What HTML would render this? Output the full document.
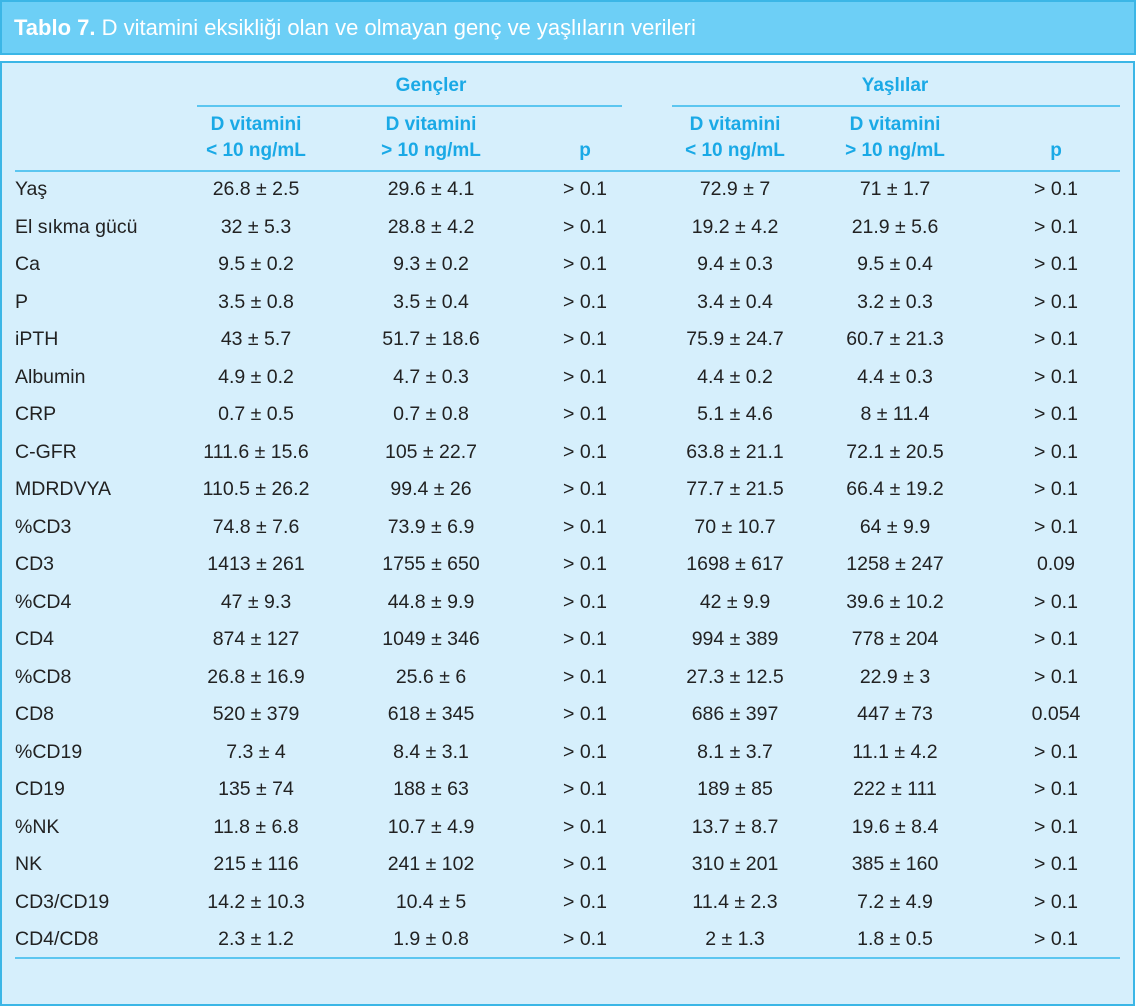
<!DOCTYPE html>
<html><head><meta charset="utf-8"><style>
body{margin:0;width:1136px;height:1006px;background:#fff;position:relative;font-family:"Liberation Sans",sans-serif;overflow:hidden}
.hd{position:absolute;left:0;top:0;height:51px;background:#6dcff6;border:2px solid #3bb6e6;color:#fff;font-size:22px;line-height:51px;padding-left:12px;width:1120px}
.bx{position:absolute;left:0;top:61px;width:1131px;height:941px;background:#d6effc;border:2px solid #3bb6e6}
.ln{position:absolute;height:2px;background:#5cc6f0}
.h{position:absolute;color:#1aa9e6;font-weight:bold;font-size:19px;text-align:center;line-height:26px}
table{position:absolute;left:15px;top:171px;border-collapse:collapse;font-size:19.5px;color:#222}
td{padding:0;text-align:center;vertical-align:middle;line-height:37.5px;height:37.5px}
td:first-child{text-align:left}
</style></head><body>
<div class="hd"><b>Tablo 7.</b> D vitamini eksikliği olan ve olmayan genç ve yaşlıların verileri</div>
<div class="bx"></div>
<div class="ln" style="left:197px;top:105px;width:425px"></div>
<div class="ln" style="left:672px;top:105px;width:448px"></div>
<div class="ln" style="left:15px;top:170px;width:1105px"></div>
<div class="ln" style="left:15px;top:957px;width:1105px"></div>
<div class="h" style="left:331px;top:73px;width:200px">Gençler</div>
<div class="h" style="left:795px;top:73px;width:200px">Yaşlılar</div>
<div class="h" style="left:156px;top:112px;width:200px">D vitamini<br>&lt; 10 ng/mL</div>
<div class="h" style="left:331px;top:112px;width:200px">D vitamini<br>&gt; 10 ng/mL</div>
<div class="h" style="left:535px;top:138px;width:100px">p</div>
<div class="h" style="left:635px;top:112px;width:200px">D vitamini<br>&lt; 10 ng/mL</div>
<div class="h" style="left:795px;top:112px;width:200px">D vitamini<br>&gt; 10 ng/mL</div>
<div class="h" style="left:1006px;top:138px;width:100px">p</div>
<table>
<colgroup><col style="width:141px"><col style="width:200px"><col style="width:150px"><col style="width:158px"><col style="width:142px"><col style="width:178px"><col style="width:144px"></colgroup>
<tr><td>Yaş</td><td>26.8 ± 2.5</td><td>29.6 ± 4.1</td><td>&gt; 0.1</td><td>72.9 ± 7</td><td>71 ± 1.7</td><td>&gt; 0.1</td></tr>
<tr><td>El sıkma gücü</td><td>32 ± 5.3</td><td>28.8 ± 4.2</td><td>&gt; 0.1</td><td>19.2 ± 4.2</td><td>21.9 ± 5.6</td><td>&gt; 0.1</td></tr>
<tr><td>Ca</td><td>9.5 ± 0.2</td><td>9.3 ± 0.2</td><td>&gt; 0.1</td><td>9.4 ± 0.3</td><td>9.5 ± 0.4</td><td>&gt; 0.1</td></tr>
<tr><td>P</td><td>3.5 ± 0.8</td><td>3.5 ± 0.4</td><td>&gt; 0.1</td><td>3.4 ± 0.4</td><td>3.2 ± 0.3</td><td>&gt; 0.1</td></tr>
<tr><td>iPTH</td><td>43 ± 5.7</td><td>51.7 ± 18.6</td><td>&gt; 0.1</td><td>75.9 ± 24.7</td><td>60.7 ± 21.3</td><td>&gt; 0.1</td></tr>
<tr><td>Albumin</td><td>4.9 ± 0.2</td><td>4.7 ± 0.3</td><td>&gt; 0.1</td><td>4.4 ± 0.2</td><td>4.4 ± 0.3</td><td>&gt; 0.1</td></tr>
<tr><td>CRP</td><td>0.7 ± 0.5</td><td>0.7 ± 0.8</td><td>&gt; 0.1</td><td>5.1 ± 4.6</td><td>8 ± 11.4</td><td>&gt; 0.1</td></tr>
<tr><td>C-GFR</td><td>111.6 ± 15.6</td><td>105 ± 22.7</td><td>&gt; 0.1</td><td>63.8 ± 21.1</td><td>72.1 ± 20.5</td><td>&gt; 0.1</td></tr>
<tr><td>MDRDVYA</td><td>110.5 ± 26.2</td><td>99.4 ± 26</td><td>&gt; 0.1</td><td>77.7 ± 21.5</td><td>66.4 ± 19.2</td><td>&gt; 0.1</td></tr>
<tr><td>%CD3</td><td>74.8 ± 7.6</td><td>73.9 ± 6.9</td><td>&gt; 0.1</td><td>70 ± 10.7</td><td>64 ± 9.9</td><td>&gt; 0.1</td></tr>
<tr><td>CD3</td><td>1413 ± 261</td><td>1755 ± 650</td><td>&gt; 0.1</td><td>1698 ± 617</td><td>1258 ± 247</td><td>0.09</td></tr>
<tr><td>%CD4</td><td>47 ± 9.3</td><td>44.8 ± 9.9</td><td>&gt; 0.1</td><td>42 ± 9.9</td><td>39.6 ± 10.2</td><td>&gt; 0.1</td></tr>
<tr><td>CD4</td><td>874 ± 127</td><td>1049 ± 346</td><td>&gt; 0.1</td><td>994 ± 389</td><td>778 ± 204</td><td>&gt; 0.1</td></tr>
<tr><td>%CD8</td><td>26.8 ± 16.9</td><td>25.6 ± 6</td><td>&gt; 0.1</td><td>27.3 ± 12.5</td><td>22.9 ± 3</td><td>&gt; 0.1</td></tr>
<tr><td>CD8</td><td>520 ± 379</td><td>618 ± 345</td><td>&gt; 0.1</td><td>686 ± 397</td><td>447 ± 73</td><td>0.054</td></tr>
<tr><td>%CD19</td><td>7.3 ± 4</td><td>8.4 ± 3.1</td><td>&gt; 0.1</td><td>8.1 ± 3.7</td><td>11.1 ± 4.2</td><td>&gt; 0.1</td></tr>
<tr><td>CD19</td><td>135 ± 74</td><td>188 ± 63</td><td>&gt; 0.1</td><td>189 ± 85</td><td>222 ± 111</td><td>&gt; 0.1</td></tr>
<tr><td>%NK</td><td>11.8 ± 6.8</td><td>10.7 ± 4.9</td><td>&gt; 0.1</td><td>13.7 ± 8.7</td><td>19.6 ± 8.4</td><td>&gt; 0.1</td></tr>
<tr><td>NK</td><td>215 ± 116</td><td>241 ± 102</td><td>&gt; 0.1</td><td>310 ± 201</td><td>385 ± 160</td><td>&gt; 0.1</td></tr>
<tr><td>CD3/CD19</td><td>14.2 ± 10.3</td><td>10.4 ± 5</td><td>&gt; 0.1</td><td>11.4 ± 2.3</td><td>7.2 ± 4.9</td><td>&gt; 0.1</td></tr>
<tr><td>CD4/CD8</td><td>2.3 ± 1.2</td><td>1.9 ± 0.8</td><td>&gt; 0.1</td><td>2 ± 1.3</td><td>1.8 ± 0.5</td><td>&gt; 0.1</td></tr>
</table>
</body></html>
